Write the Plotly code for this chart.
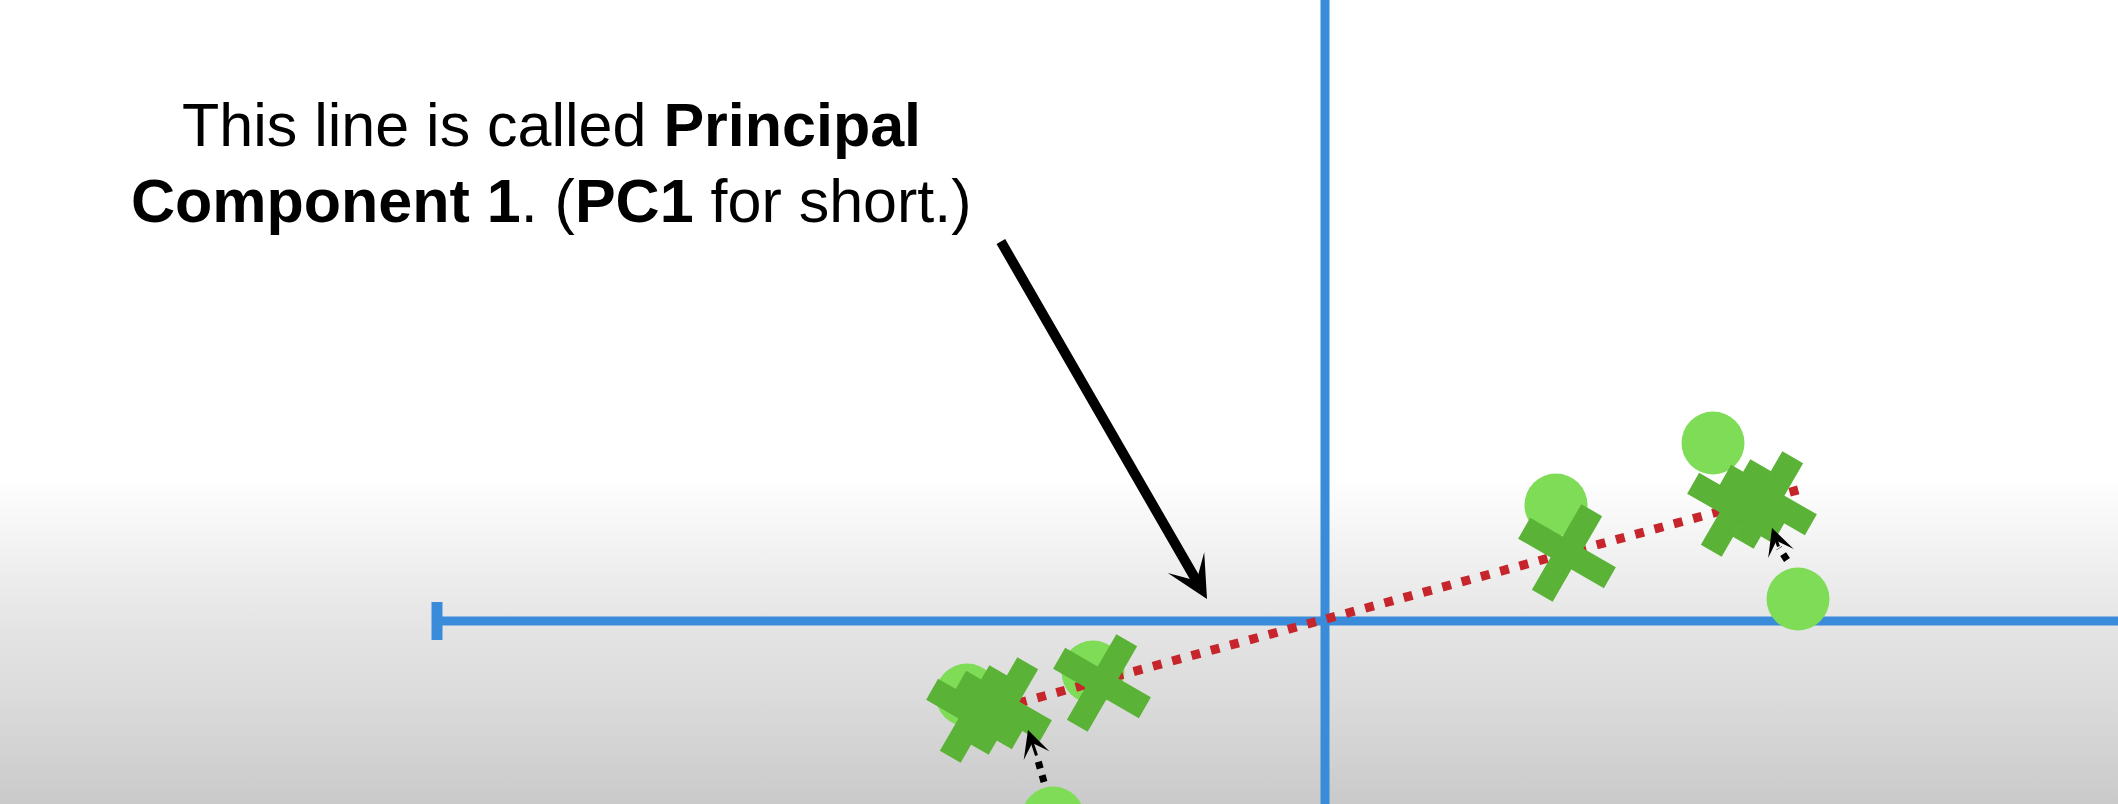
import plotly.graph_objects as go

# ── Data (units: 1 = 100 px, origin where the two axes cross) ──────── #

# original data points (light green circles)
point_x = [3.88, 2.31, 4.73, -3.58, -2.32, -2.72]
point_y = [1.78, 1.16, 0.22, -0.74, -0.51, -1.97]

# the same points projected onto PC1 (green X marks)
proj_x = [4.11, 2.42, 4.43, -3.50, -2.23, -3.22]
proj_y = [1.13, 0.68, 1.21, -0.93, -0.62, -0.85]

# PC1 line (red dotted), end points
pc1_x = [-3.65, 4.80]
pc1_y = [-0.98, 1.33]

# dotted projection arrows: tail, base of the head, tip
proj_arrow_tail = [(-2.81, -1.61), (4.62, 0.61)]
proj_arrow_base = [(-2.88, -1.36), (4.54, 0.73)]
proj_arrow_tip = [(-2.97, -1.09), (4.47, 0.93)]

# big call-out arrow
callout_tail = (-3.25, 3.81)
callout_tip = (-1.18, 0.22)

# axes
axis_left = -8.88
axis_cap = 0.19

caption_lines = [
    'This line is called <b>Principal</b>',
    '<b>Component 1</b>. (<b>PC1</b> for short.)',
]

X_RANGE = [-13.25, 7.93]
Y_RANGE = [-1.83, 6.21]

BLUE = '#3a8bda'
CIRCLE = '#7edc56'
CROSS = '#5ab236'
RED = '#c6262b'

fig = go.Figure()

# ── Background: white fading to grey toward the bottom ───────────── #
fig.add_trace(go.Scatter(
    x=[X_RANGE[0], X_RANGE[1], X_RANGE[1], X_RANGE[0], X_RANGE[0]],
    y=[Y_RANGE[0], Y_RANGE[0], 1.45, 1.45, Y_RANGE[0]],
    mode='lines', line=dict(width=0),
    fill='toself',
    fillgradient=dict(
        type='vertical', start=Y_RANGE[0], stop=1.45,
        colorscale=[[0, '#cacaca'], [0.114, '#d0d0d0'], [0.321, '#dbdbdb'],
                    [0.528, '#e4e4e4'], [0.731, '#efefef'], [0.877, '#f8f8f8'],
                    [1, '#ffffff']],
    ),
    hoverinfo='skip',
))

# ── Axes ────────────────────────────────────────────────────────── #
fig.add_trace(go.Scatter(
    x=[axis_left, X_RANGE[1] + 1], y=[0, 0],
    mode='lines', line=dict(color=BLUE, width=9), hoverinfo='skip'))
fig.add_trace(go.Scatter(
    x=[0, 0], y=[Y_RANGE[0] - 1, Y_RANGE[1] + 1],
    mode='lines', line=dict(color=BLUE, width=9), hoverinfo='skip'))
fig.add_trace(go.Scatter(
    x=[axis_left, axis_left], y=[-axis_cap, axis_cap],
    mode='lines', line=dict(color=BLUE, width=11), hoverinfo='skip'))

# ── Points, PC1, projections ────────────────────────────────────── #
fig.add_trace(go.Scatter(
    x=point_x, y=point_y, mode='markers',
    marker=dict(symbol='circle', size=63, color=CIRCLE, line=dict(width=0)),
))

fig.add_trace(go.Scatter(
    x=pc1_x, y=pc1_y, mode='lines',
    line=dict(color=RED, width=9, dash='9px,11px'),
))

fig.add_trace(go.Scatter(
    x=proj_x, y=proj_y, mode='markers',
    marker=dict(symbol='x-thin', size=70, angle=-15, color=CROSS,
                line=dict(width=24, color=CROSS)),
))

for (tx, ty), (bx, by) in zip(proj_arrow_tail, proj_arrow_base):
    fig.add_trace(go.Scatter(
        x=[tx, bx], y=[ty, by], mode='lines',
        line=dict(color='black', width=7, dash='7px,7px'),
    ))

annotations = []
for (bx, by), (px, py) in zip(proj_arrow_base, proj_arrow_tip):
    annotations.append(dict(
        x=px, y=py, ax=bx, ay=by, xref='x', yref='y', axref='x', ayref='y',
        text='', showarrow=True, arrowhead=3, arrowwidth=3, arrowsize=1.5,
        arrowcolor='black',
    ))

annotations.append(dict(
    x=callout_tip[0], y=callout_tip[1], ax=callout_tail[0], ay=callout_tail[1],
    xref='x', yref='y', axref='x', ayref='y',
    text='', showarrow=True, arrowhead=3, arrowwidth=10, arrowsize=0.7,
    arrowcolor='black',
))

# caption, one annotation per line to keep the tight line spacing
for text, y in zip(caption_lines, [4.96, 4.20]):
    annotations.append(dict(
        x=-7.74, y=y, xref='x', yref='y', text=text, showarrow=False,
        xanchor='center', yanchor='middle',
        font=dict(family='Liberation Sans, Arial, sans-serif', size=61,
                  color='black'),
    ))

fig.update_xaxes(range=X_RANGE, visible=False, fixedrange=True)
fig.update_yaxes(range=Y_RANGE, visible=False, fixedrange=True)

fig.update_layout(
    width=2118, height=804,
    margin=dict(l=0, r=0, t=0, b=0),
    paper_bgcolor='white', plot_bgcolor='white',
    showlegend=False,
    annotations=annotations,
)

fig.write_html("out.html",
               config={'displayModeBar': False},
               post_script="document.body.style.margin='0';"
                           "document.body.style.overflow='hidden';")
